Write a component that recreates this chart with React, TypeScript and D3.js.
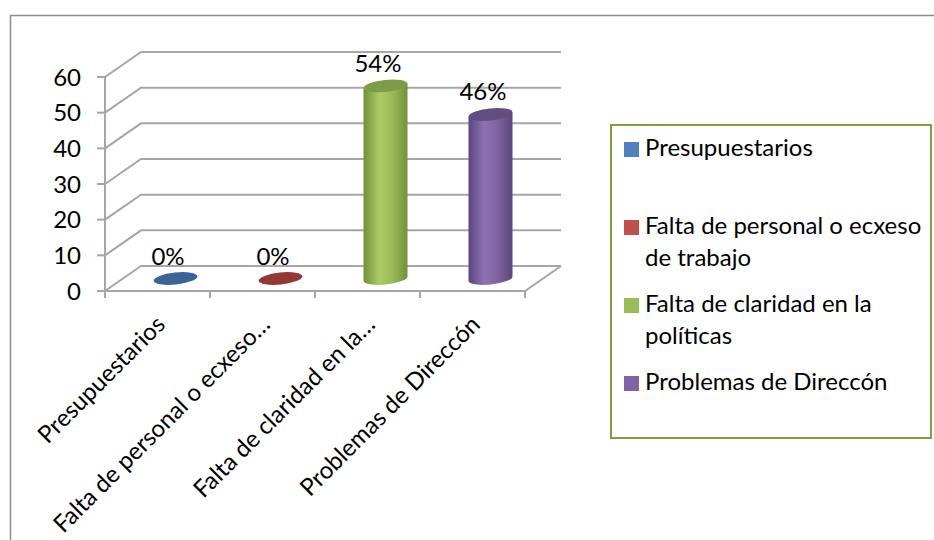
import React, { useEffect, useRef } from 'react'
import * as d3 from 'd3'

const categories = ['Presupuestarios', 'Falta de personal o ecxeso de trabajo', 'Falta de claridad en la políticas', 'Problemas de Direccón']
const tickLabels = ['Presupuestarios', 'Falta de personal o ecxeso…', 'Falta de claridad en la…', 'Problemas de Direccón']
const values = [0, 0, 54, 46]
const valueLabels = ['0%', '0%', '54%', '46%']
const yTicks = [0, 10, 20, 30, 40, 50, 60]
const legendLines = [['Presupuestarios'], ['Falta de personal o ecxeso', 'de trabajo'], ['Falta de claridad en la', 'políticas'], ['Problemas de Direccón']]
const colors = ['#4f81bd', '#c0504d', '#9bbb59', '#8064a2']
// dark edge, light highlight, top/disk
const shades = [
    ['#35608f', '#5a8cc8', '#3a6496'],
    ['#8e3432', '#cc5e5b', '#953735'],
    ['#738f3a', '#aacb66', '#7e9c45'],
    ['#5c467c', '#8d71b4', '#624c82'],
]

function App() {
    const ref = useRef<SVGSVGElement>(null)

    useEffect(() => {
        const svg = d3.select(ref.current)
        svg.selectAll('*').remove()
        const font = 'Lato, sans-serif'
        const fs = 24
        const dx = 36, dy = -25
        const grid = '#a6a6a6'

        const x = d3.scaleBand<string>().domain(categories).range([105, 525])
        const y = d3.scaleLinear().domain([0, 60]).range([291, 77])
        const bw = x.bandwidth()

        // outer frame
        svg.append('rect')
            .attr('x', 10.5).attr('y', 15.5)
            .attr('width', 940).attr('height', 540)
            .attr('fill', 'none').attr('stroke', '#8c8c8c').attr('stroke-width', 1.5)

        // back wall + side wall gridlines
        svg.append('g').selectAll('path')
            .data(yTicks).enter()
            .append('path')
            .attr('d', t => `M105,${y(t)}L${105 + dx},${y(t) + dy}L${x.range()[1] + dx},${y(t) + dy}`)
            .attr('fill', 'none').attr('stroke', grid).attr('stroke-width', 2)

        // floor
        svg.append('path')
            .attr('d', `M105,${y(0)}L525,${y(0)}L${525 + dx},${y(0) + dy}`)
            .attr('fill', 'none').attr('stroke', grid).attr('stroke-width', 2)

        // y axis
        svg.append('path')
            .attr('d', `M105,${y(60)}L105,${y(0)}`)
            .attr('stroke', grid).attr('stroke-width', 2)
        svg.append('g').selectAll('path')
            .data(yTicks).enter()
            .append('path')
            .attr('d', t => `M97,${y(t)}L105,${y(t)}`)
            .attr('stroke', grid).attr('stroke-width', 2)
        svg.append('g').selectAll('text')
            .data(yTicks).enter()
            .append('text')
            .attr('x', 81).attr('y', t => y(t))
            .attr('dy', '0.36em')
            .attr('text-anchor', 'end')
            .style('font-family', font).style('font-size', fs + 'px')
            .text(t => t)

        // x ticks
        const bounds = categories.map(c => x(c) as number).concat([x.range()[1]])
        svg.append('g').selectAll('path')
            .data(bounds).enter()
            .append('path')
            .attr('d', b => `M${b},${y(0)}L${b},${y(0) + 7}`)
            .attr('stroke', grid).attr('stroke-width', 2)

        // category labels
        svg.append('g').selectAll('text')
            .data(categories).enter()
            .append('text')
            .attr('transform', (c) => `translate(${(x(c) as number) + bw / 2 + 9},326) rotate(-45)`)
            .attr('text-anchor', 'end')
            .style('font-family', font).style('font-size', fs + 'px')
            .text((c, i) => tickLabels[i])

        // gradients
        const defs = svg.append('defs')
        shades.forEach((s, i) => {
            const g = defs.append('linearGradient').attr('id', 'cyl' + i)
                .attr('x1', 0).attr('x2', 1).attr('y1', 0).attr('y2', 0)
            g.append('stop').attr('offset', 0).attr('stop-color', s[0])
            g.append('stop').attr('offset', 0.35).attr('stop-color', s[1])
            g.append('stop').attr('offset', 0.65).attr('stop-color', colors[i])
            g.append('stop').attr('offset', 1).attr('stop-color', s[0])
        })

        // cylinders
        const rx = 22, ry = 6, tilt = -6
        const sk = rx * Math.sin(-tilt * Math.PI / 180)
        const bars = svg.append('g')
        categories.forEach((c, i) => {
            const cx = (x(c) as number) + bw / 2 + dx / 2
            const yb = y(0) + dy / 2
            const yt = y(values[i]) + dy / 2
            if (values[i] > 0) {
                bars.append('path')
                    .attr('d', `M${cx - rx},${yt + sk}L${cx - rx},${yb + sk}A${rx},${ry} ${tilt} 0 0 ${cx + rx},${yb - sk}L${cx + rx},${yt - sk}Z`)
                    .attr('fill', `url(#cyl${i})`)
            }
            bars.append('ellipse')
                .attr('cx', cx).attr('cy', yt)
                .attr('rx', rx).attr('ry', ry)
                .attr('transform', `rotate(${tilt},${cx},${yt})`)
                .attr('fill', shades[i][2])
        })

        // value labels
        svg.append('g').selectAll('text')
            .data(categories).enter()
            .append('text')
            .attr('x', c => (x(c) as number) + bw / 2 + 10.5)
            .attr('y', (c, i) => y(values[i]) + dy / 2 - 14)
            .attr('text-anchor', 'middle')
            .style('font-family', font).style('font-size', fs + 'px')
            .text((c, i) => valueLabels[i])

        // legend
        const lg = svg.append('g')
        lg.append('rect')
            .attr('x', 611).attr('y', 125)
            .attr('width', 320).attr('height', 313)
            .attr('fill', 'white').attr('stroke', '#7f9f45').attr('stroke-width', 2)
        const ly = d3.scaleLinear().domain([0, 3]).range([156, 390])
        legendLines.forEach((lines, i) => {
            lg.append('rect')
                .attr('x', 624).attr('y', ly(i) - 14)
                .attr('width', 15).attr('height', 15)
                .attr('fill', colors[i])
            lg.append('text')
                .attr('x', 645).attr('y', ly(i))
                .style('font-family', font).style('font-size', fs + 'px')
                .selectAll('tspan')
                .data(lines).enter()
                .append('tspan')
                .attr('x', 645)
                .attr('dy', (l, j) => j === 0 ? 0 : 32)
                .text(l => l)
        })
    }, [])

    return (
        <>
            <style>{'body{margin:0}'}</style>
            <svg ref={ref} width={934} height={540} style={{ display: 'block' }} />
        </>
    )
}

export default App
